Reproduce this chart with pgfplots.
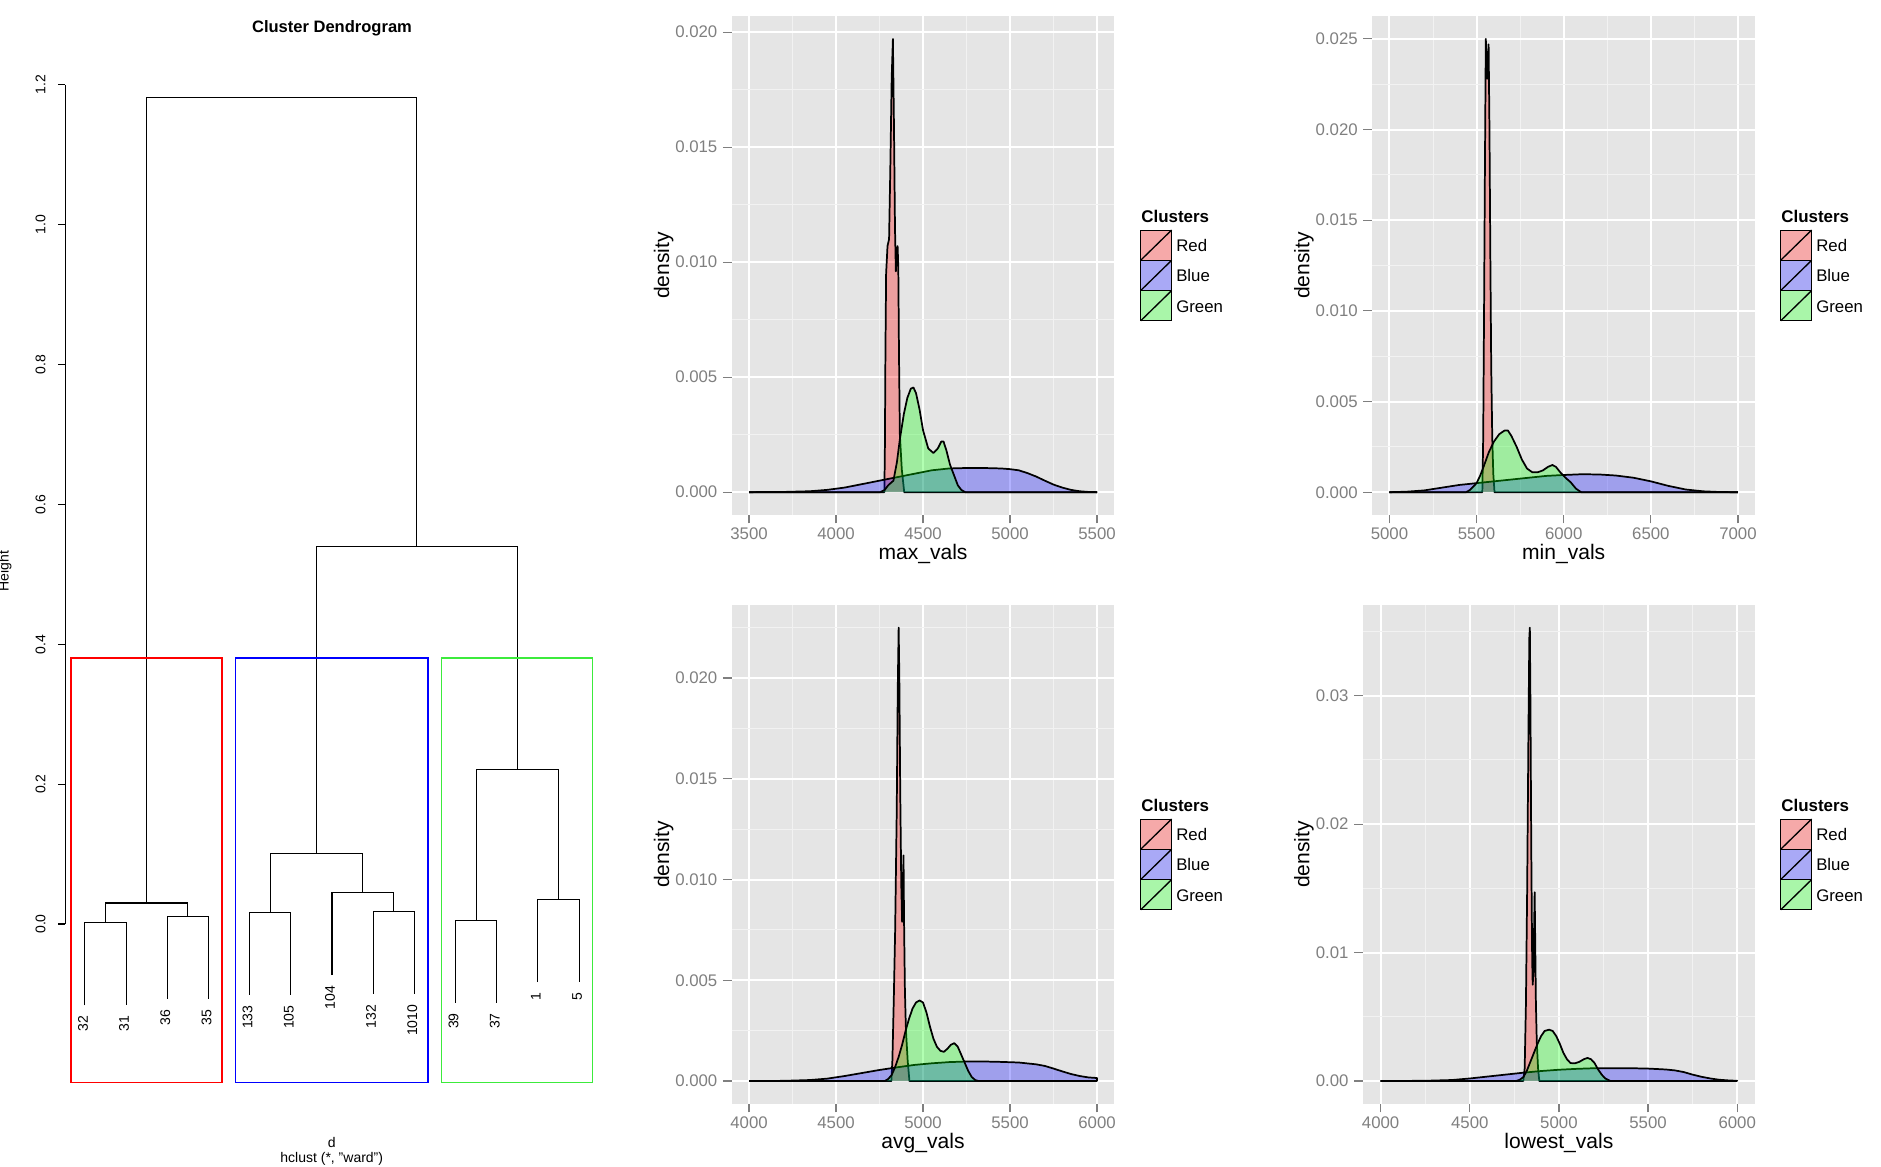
\documentclass[border=0pt]{standalone}
\usepackage{pgfplots}
\pgfplotsset{compat=1.18}
\usepackage{fontspec}
\setmainfont{Liberation Sans}
\definecolor{ggbg}{HTML}{E5E5E5}
\definecolor{ggminor}{HTML}{F2F2F2}
\definecolor{ggtick}{HTML}{7F7F7F}
\definecolor{ggtext}{HTML}{7F7F7F}
\definecolor{kred}{RGB}{246,169,169}
\definecolor{kblue}{RGB}{169,169,246}
\definecolor{kgreen}{RGB}{169,246,169}
\definecolor{rgreen}{RGB}{60,235,60}
\pgfplotsset{
 ggp/.style={
  scale only axis, anchor=north west,
  axis background/.style={fill=ggbg},
  axis line style={draw=none},
  grid=both,
  major grid style={draw=white, line width=1.5pt},
  minor grid style={draw=ggminor, line width=0.75pt},
  tick align=outside, tick pos=left,
  major tick length=6.5pt,
  minor tick length=0pt,
  tick style={draw=ggtick, line width=0.9pt},
  minor tick style={draw=none},
  scaled x ticks=false, scaled y ticks=false,
  /pgf/number format/assume math mode=true,
  tick label style={font=\fontsize{12.6}{15}\selectfont, text=ggtext, inner sep=0pt},
  yticklabel style={anchor=east},
  xticklabel style={anchor=north},
  xticklabel shift=2.9pt,
  yticklabel shift=4pt,
  label style={font=\fontsize{15.8}{19}\selectfont},
  xlabel style={at={(axis description cs:0.5,0)}, anchor=base, yshift=-33.45pt},
  ylabel={density},
  clip=true,
 },
 dens/.style={draw=black, line width=1.3pt, line join=round, fill opacity=0.3, fill=#1},
 dend/.style={black, line width=0.8pt},
}
\newcommand{\cluslegend}[2]{%
 \begin{scope}[shift={(#1,#2)}]
  \node[anchor=base west, inner sep=0pt, font=\bfseries\fontsize{12.7}{15}\selectfont] at (0.3pt,5.8pt) {Clusters};
  \draw[line width=0.75pt, fill=kred] (0,0) rectangle (23.25pt,-22.7pt);
  \draw[line width=1pt] (0,-22.7pt) -- (23.25pt,0);
  \draw[line width=0.75pt, fill=kblue] (0,-22.7pt) rectangle (23.25pt,-45.4pt);
  \draw[line width=1pt] (0,-45.4pt) -- (23.25pt,-22.7pt);
  \draw[line width=0.75pt, fill=kgreen] (0,-45.4pt) rectangle (23.25pt,-68.1pt);
  \draw[line width=1pt] (0,-68.1pt) -- (23.25pt,-45.4pt);
  \node[anchor=base west, inner sep=0pt, font=\fontsize{12.6}{15}\selectfont] at (26.5pt,-15.75pt) {Red};
  \node[anchor=base west, inner sep=0pt, font=\fontsize{12.6}{15}\selectfont] at (26.5pt,-38.6pt) {Blue};
  \node[anchor=base west, inner sep=0pt, font=\fontsize{12.6}{15}\selectfont] at (26.5pt,-61.9pt) {Green};
 \end{scope}}
\begin{document}
\begin{tikzpicture}
\path[use as bounding box] (0,0) rectangle (1410.75pt,-875.25pt);

% ---------------- Dendrogram ----------------
\begin{axis}[at={(48.9pt,-44.775pt)}, anchor=north west, scale only axis,
  width=400.2pt, height=767.25pt, xmin=0.52, xmax=13.48, ymin=-0.227, ymax=1.236,
  axis lines=none, clip=false]
\addplot[dend] coordinates {(1,-0.1163) (1,0.0017) (2,0.0017) (2,-0.1163)};
\addplot[dend] coordinates {(3,-0.107) (3,0.011) (4,0.011) (4,-0.107)};
\addplot[dend] coordinates {(1.5,0.0017) (1.5,0.030) (3.5,0.030) (3.5,0.011)};
\addplot[dend] coordinates {(5,-0.1014) (5,0.0166) (6,0.0166) (6,-0.1014)};
\addplot[dend] coordinates {(8,-0.100) (8,0.018) (9,0.018) (9,-0.100)};
\addplot[dend] coordinates {(7,-0.073) (7,0.045) (8.5,0.045) (8.5,0.018)};
\addplot[dend] coordinates {(5.5,0.0166) (5.5,0.1007) (7.75,0.1007) (7.75,0.045)};
\addplot[dend] coordinates {(10,-0.1125) (10,0.0055) (11,0.0055) (11,-0.1125)};
\addplot[dend] coordinates {(12,-0.083) (12,0.035) (13,0.035) (13,-0.083)};
\addplot[dend] coordinates {(10.5,0.0055) (10.5,0.2205) (12.5,0.2205) (12.5,0.035)};
\addplot[dend] coordinates {(6.625,0.1007) (6.625,0.54) (11.5,0.54) (11.5,0.2205)};
\addplot[dend] coordinates {(2.5,0.030) (2.5,1.1816) (9.0625,1.1816) (9.0625,0.54)};
% cluster rectangles
\addplot[red, line width=1pt] coordinates {(0.66,-0.227) (4.33,-0.227) (4.33,0.38025) (0.66,0.38025) (0.66,-0.227)};
\addplot[blue, line width=1pt] coordinates {(4.66,-0.227) (9.33,-0.227) (9.33,0.38025) (4.66,0.38025) (4.66,-0.227)};
\addplot[rgreen, line width=1pt] coordinates {(9.66,-0.227) (13.33,-0.227) (13.33,0.38025) (9.66,0.38025) (9.66,-0.227)};
% y axis
\draw[line width=0.8pt] (axis cs:0.52,0) -- (axis cs:0.52,1.2);
\draw[line width=0.8pt] (axis cs:0.52,0) -- (axis cs:0.333,0);
\draw[line width=0.8pt] (axis cs:0.52,0.2) -- (axis cs:0.333,0.2);
\draw[line width=0.8pt] (axis cs:0.52,0.4) -- (axis cs:0.333,0.4);
\draw[line width=0.8pt] (axis cs:0.52,0.6) -- (axis cs:0.333,0.6);
\draw[line width=0.8pt] (axis cs:0.52,0.8) -- (axis cs:0.333,0.8);
\draw[line width=0.8pt] (axis cs:0.52,1.0) -- (axis cs:0.333,1.0);
\draw[line width=0.8pt] (axis cs:0.52,1.2) -- (axis cs:0.333,1.2);
\node[rotate=90, anchor=base, inner sep=0pt, font=\fontsize{10.5}{12}\selectfont] at (axis cs:0.039,0) {0.0};
\node[rotate=90, anchor=base, inner sep=0pt, font=\fontsize{10.5}{12}\selectfont] at (axis cs:0.039,0.2) {0.2};
\node[rotate=90, anchor=base, inner sep=0pt, font=\fontsize{10.5}{12}\selectfont] at (axis cs:0.039,0.4) {0.4};
\node[rotate=90, anchor=base, inner sep=0pt, font=\fontsize{10.5}{12}\selectfont] at (axis cs:0.039,0.6) {0.6};
\node[rotate=90, anchor=base, inner sep=0pt, font=\fontsize{10.5}{12}\selectfont] at (axis cs:0.039,0.8) {0.8};
\node[rotate=90, anchor=base, inner sep=0pt, font=\fontsize{10.5}{12}\selectfont] at (axis cs:0.039,1.0) {1.0};
\node[rotate=90, anchor=base, inner sep=0pt, font=\fontsize{10.5}{12}\selectfont] at (axis cs:0.039,1.2) {1.2};
% leaf labels
\node[rotate=90, anchor=east, inner sep=0pt, font=\fontsize{10.5}{12}\selectfont] at (axis cs:0.951,-0.1313) {32};
\node[rotate=90, anchor=east, inner sep=0pt, font=\fontsize{10.5}{12}\selectfont] at (axis cs:1.951,-0.1313) {31};
\node[rotate=90, anchor=east, inner sep=0pt, font=\fontsize{10.5}{12}\selectfont] at (axis cs:2.951,-0.122) {36};
\node[rotate=90, anchor=east, inner sep=0pt, font=\fontsize{10.5}{12}\selectfont] at (axis cs:3.951,-0.122) {35};
\node[rotate=90, anchor=east, inner sep=0pt, font=\fontsize{10.5}{12}\selectfont] at (axis cs:4.951,-0.1164) {133};
\node[rotate=90, anchor=east, inner sep=0pt, font=\fontsize{10.5}{12}\selectfont] at (axis cs:5.951,-0.1164) {105};
\node[rotate=90, anchor=east, inner sep=0pt, font=\fontsize{10.5}{12}\selectfont] at (axis cs:6.951,-0.088) {104};
\node[rotate=90, anchor=east, inner sep=0pt, font=\fontsize{10.5}{12}\selectfont] at (axis cs:7.951,-0.115) {132};
\node[rotate=90, anchor=east, inner sep=0pt, font=\fontsize{10.5}{12}\selectfont] at (axis cs:8.951,-0.115) {1010};
\node[rotate=90, anchor=east, inner sep=0pt, font=\fontsize{10.5}{12}\selectfont] at (axis cs:9.951,-0.1275) {39};
\node[rotate=90, anchor=east, inner sep=0pt, font=\fontsize{10.5}{12}\selectfont] at (axis cs:10.951,-0.1275) {37};
\node[rotate=90, anchor=east, inner sep=0pt, font=\fontsize{10.5}{12}\selectfont] at (axis cs:11.951,-0.098) {1};
\node[rotate=90, anchor=east, inner sep=0pt, font=\fontsize{10.5}{12}\selectfont] at (axis cs:12.951,-0.098) {5};
\end{axis}
\node[anchor=base, inner sep=0pt, font=\bfseries\fontsize{12.4}{15}\selectfont] at (249pt,-24.7pt) {Cluster Dendrogram};
\node[rotate=90, anchor=base, inner sep=0pt, font=\fontsize{10.5}{12}\selectfont] at (6.5pt,-428.4pt) {Height};
\node[anchor=base, inner sep=0pt, font=\fontsize{10.5}{12}\selectfont] at (248.8pt,-860.5pt) {d};
\node[anchor=base, inner sep=0pt, font=\fontsize{10.5}{12}\selectfont] at (248.8pt,-872pt) {hclust (*, "ward")};

% ---------------- Panel 1: max_vals ----------------
\begin{axis}[ggp, at={(548.7pt,-12pt)}, width=287.1pt, height=374.025pt,
  xmin=3400, xmax=5600, ymin=-0.00098, ymax=0.0207,
  xtick={3500,4000,4500,5000,5500}, xticklabels={3500,4000,4500,5000,5500},
  minor xtick={3750,4250,4750,5250},
  ytick={0,0.005,0.01,0.015,0.02}, yticklabels={0.000,0.005,0.010,0.015,0.020},
  minor ytick={0.0025,0.0075,0.0125,0.0175},
  xlabel={max\_vals},
  ylabel style={at={(axis description cs:-0.1635,0.5)}, anchor=base}]
\addplot[dens=red] coordinates {(3500,0) (4278,0) (4281,0.002) (4284,0.006) (4288,0.0095) (4296,0.0107) (4305,0.011) (4312,0.014) (4320,0.018) (4327,0.0197) (4333,0.016) (4339,0.0115) (4344,0.0096) (4349,0.0103) (4354,0.0107) (4358,0.0098) (4362,0.006) (4367,0.0025) (4378,0.001) (4392,0) (5500,0)};
\addplot[dens=blue] coordinates {(3500,0) (3700,0.00001) (3850,0.00004) (3950,0.0001) (4050,0.0002) (4150,0.00035) (4250,0.0005) (4350,0.00065) (4450,0.0008) (4550,0.00095) (4650,0.00103) (4750,0.00105) (4850,0.00105) (4950,0.00103) (5000,0.001) (5050,0.00095) (5100,0.00083) (5150,0.00068) (5200,0.0005) (5250,0.00033) (5300,0.0002) (5350,0.0001) (5400,0.00004) (5450,0.00001) (5500,0)};
\addplot[dens=green] coordinates {(3500,0) (4255,0) (4280,0.0001) (4300,0.0003) (4330,0.0005) (4350,0.0013) (4367,0.0023) (4390,0.0034) (4410,0.0041) (4430,0.0045) (4445,0.00455) (4460,0.0043) (4480,0.0036) (4500,0.0027) (4530,0.0019) (4560,0.0017) (4585,0.0019) (4605,0.0022) (4618,0.0022) (4635,0.0018) (4655,0.0012) (4675,0.0008) (4700,0.0003) (4720,0.0001) (4742,0) (5500,0)};
\end{axis}

% ---------------- Panel 2: min_vals ----------------
\begin{axis}[ggp, at={(1029pt,-12pt)}, width=287.55pt, height=374.025pt,
  xmin=4900, xmax=7100, ymin=-0.00124, ymax=0.02626,
  xtick={5000,5500,6000,6500,7000}, xticklabels={5000,5500,6000,6500,7000},
  minor xtick={5250,5750,6250,6750},
  ytick={0,0.005,0.01,0.015,0.02,0.025}, yticklabels={0.000,0.005,0.010,0.015,0.020,0.025},
  minor ytick={0.0025,0.0075,0.0125,0.0175,0.0225},
  xlabel={min\_vals},
  ylabel style={at={(axis description cs:-0.1635,0.5)}, anchor=base}]
\addplot[dens=red] coordinates {(5000,0) (5533,0) (5538,0.003) (5543,0.010) (5548,0.018) (5553,0.025) (5557,0.0238) (5561,0.0228) (5565,0.0236) (5569,0.0247) (5574,0.02) (5579,0.013) (5584,0.007) (5590,0.003) (5596,0.001) (5603,0) (7000,0)};
\addplot[dens=blue] coordinates {(5000,0) (5100,0.00003) (5200,0.0001) (5300,0.00025) (5400,0.0004) (5500,0.0005) (5600,0.0006) (5700,0.0007) (5800,0.0008) (5900,0.0009) (6000,0.00095) (6100,0.00099) (6200,0.00098) (6300,0.00092) (6400,0.0008) (6500,0.0006) (6600,0.00035) (6700,0.00015) (6800,0.00005) (6900,0.00001) (7000,0)};
\addplot[dens=green] coordinates {(5000,0) (5440,0) (5463,0.00013) (5480,0.0003) (5500,0.0005) (5520,0.0009) (5540,0.0014) (5570,0.0022) (5600,0.0028) (5630,0.0032) (5660,0.0034) (5680,0.0034) (5700,0.0031) (5730,0.0025) (5760,0.0018) (5790,0.0013) (5820,0.0011) (5850,0.0011) (5880,0.0012) (5910,0.0014) (5935,0.0015) (5955,0.0014) (5980,0.0011) (6010,0.0008) (6040,0.00055) (6070,0.0002) (6100,0) (7000,0)};
\end{axis}

% ---------------- Panel 3: avg_vals ----------------
\begin{axis}[ggp, at={(548.7pt,-453.75pt)}, width=287.1pt, height=374.025pt,
  xmin=3900, xmax=6100, ymin=-0.001125, ymax=0.023625,
  xtick={4000,4500,5000,5500,6000}, xticklabels={4000,4500,5000,5500,6000},
  minor xtick={4250,4750,5250,5750},
  ytick={0,0.005,0.01,0.015,0.02}, yticklabels={0.000,0.005,0.010,0.015,0.020},
  minor ytick={0.0025,0.0075,0.0125,0.0175,0.0225},
  xlabel={avg\_vals},
  ylabel style={at={(axis description cs:-0.1635,0.5)}, anchor=base}]
\addplot[dens=red] coordinates {(4000,0) (4818,0) (4824,0.001) (4832,0.004) (4840,0.0075) (4849,0.0134) (4855,0.0195) (4860,0.0225) (4864,0.02) (4869,0.0145) (4875,0.0098) (4880,0.0079) (4884,0.0092) (4888,0.0112) (4891,0.008) (4896,0.0045) (4902,0.0025) (4912,0.001) (4922,0) (6000,0)};
\addplot[dens=blue] coordinates {(4000,0) (4200,0.00001) (4350,0.00005) (4450,0.00012) (4550,0.00025) (4650,0.0004) (4750,0.00055) (4850,0.00068) (4950,0.0008) (5050,0.00088) (5150,0.00094) (5250,0.00097) (5350,0.00097) (5450,0.00095) (5550,0.00092) (5650,0.00083) (5700,0.00075) (5750,0.00062) (5800,0.00048) (5850,0.00035) (5900,0.00025) (5950,0.00018) (6000,0.00015) (6000,0)};
\addplot[dens=green] coordinates {(4000,0) (4780,0) (4800,0.0001) (4820,0.0003) (4840,0.0007) (4860,0.0012) (4880,0.0018) (4900,0.0025) (4920,0.0031) (4940,0.0036) (4960,0.0039) (4980,0.004) (5000,0.0039) (5020,0.0034) (5040,0.0027) (5060,0.0021) (5080,0.0017) (5100,0.0015) (5120,0.00145) (5140,0.0016) (5160,0.0018) (5180,0.00188) (5200,0.0017) (5220,0.0013) (5240,0.0009) (5260,0.0005) (5280,0.0002) (5300,0.00005) (5320,0) (6000,0)};
\end{axis}

% ---------------- Panel 4: lowest_vals ----------------
\begin{axis}[ggp, at={(1022.1pt,-453.75pt)}, width=294.15pt, height=374.025pt,
  xmin=3900, xmax=6100, ymin=-0.001765, ymax=0.037065,
  xtick={4000,4500,5000,5500,6000}, xticklabels={4000,4500,5000,5500,6000},
  minor xtick={4250,4750,5250,5750},
  ytick={0,0.01,0.02,0.03}, yticklabels={0.00,0.01,0.02,0.03},
  minor ytick={0.005,0.015,0.025,0.035},
  xlabel={lowest\_vals},
  ylabel style={at={(axis description cs:-0.1364,0.5)}, anchor=base}]
\addplot[dens=red] coordinates {(4000,0) (4800,0) (4808,0.001) (4815,0.006) (4822,0.015) (4829,0.027) (4834,0.0345) (4837,0.0353) (4840,0.03) (4845,0.018) (4850,0.0095) (4853,0.0075) (4857,0.0085) (4861,0.012) (4864,0.0147) (4867,0.011) (4871,0.006) (4876,0.003) (4883,0.001) (4890,0) (6000,0)};
\addplot[dens=blue] coordinates {(4000,0) (4250,0.00002) (4400,0.00008) (4500,0.0002) (4600,0.00035) (4700,0.0005) (4800,0.00065) (4900,0.00078) (5000,0.00088) (5100,0.00095) (5200,0.001) (5300,0.001) (5400,0.001) (5500,0.00097) (5600,0.0009) (5650,0.00083) (5700,0.0007) (5750,0.0005) (5800,0.00033) (5850,0.0002) (5900,0.0001) (5950,0.00005) (6000,0.00002) (6000,0)};
\addplot[dens=green] coordinates {(4000,0) (4760,0) (4780,0.0001) (4800,0.0003) (4820,0.0008) (4840,0.0015) (4860,0.0022) (4880,0.0029) (4900,0.0035) (4920,0.0039) (4945,0.0040) (4965,0.0039) (4985,0.0035) (5005,0.0029) (5025,0.0022) (5045,0.0017) (5065,0.0014) (5090,0.00138) (5115,0.0015) (5140,0.0017) (5160,0.0018) (5180,0.0017) (5200,0.0014) (5220,0.0009) (5240,0.0005) (5260,0.0002) (5290,0) (6000,0)};
\end{axis}

% ---------------- Legends ----------------
\cluslegend{855.5pt}{-172.5pt}
\cluslegend{1335.5pt}{-172.5pt}
\cluslegend{855.5pt}{-614.25pt}
\cluslegend{1335.5pt}{-614.25pt}
\end{tikzpicture}
\end{document}
